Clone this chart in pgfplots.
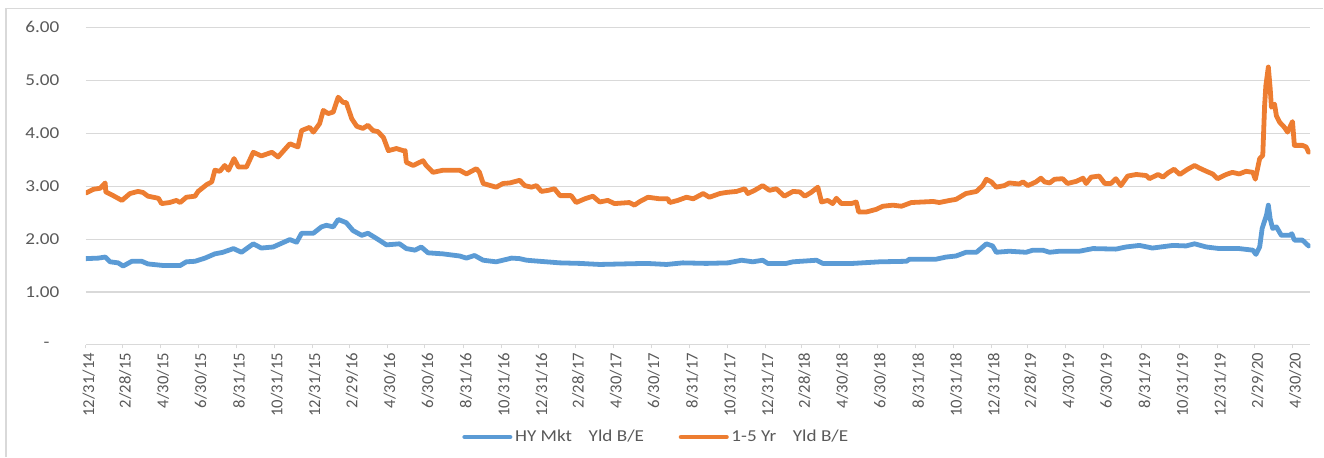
\documentclass[border=0pt]{standalone}
\usepackage{fontspec}
\setmainfont{Carlito}
\newfontfamily\widefont[FakeStretch=1.15]{Carlito}
\usepackage{pgfplots}
\pgfplotsset{compat=1.18}

\definecolor{hyblue}{HTML}{5B9BD5}
\definecolor{yrorange}{HTML}{ED7D31}
\definecolor{txtgrey}{HTML}{595959}
\definecolor{gridgrey}{HTML}{D9D9D9}

\begin{document}
\begin{tikzpicture}
\begin{axis}[
    name=ax,
    scale only axis,
    width=918.75pt, height=238.3pt,
    xmin=0, xmax=1976,
    ymin=0, ymax=6,
    axis line style={draw=none},
    ytick={0,1,2,3,4,5,6},
    yticklabels={{-\hphantom{0}},1.00,2.00,3.00,4.00,5.00,6.00},
    ymajorgrids,
    grid style={gridgrey, line width=0.8pt},
    ytick style={draw=none},
    yticklabel style={xshift=-14pt, font=\widefont\fontsize{12.5}{14}\selectfont},
    xtick={0,59,120,181,243,304,365,425,486,547,609,670,731,790,851,912,974,1035,1096,1155,1216,1277,1339,1400,1461,1520,1581,1642,1704,1765,1826,1886,1947},
    xticklabels={12/31/14,2/28/15,4/30/15,6/30/15,8/31/15,10/31/15,12/31/15,2/29/16,4/30/16,6/30/16,8/31/16,10/31/16,12/31/16,2/28/17,4/30/17,6/30/17,8/31/17,10/31/17,12/31/17,2/28/18,4/30/18,6/30/18,8/31/18,10/31/18,12/31/18,2/28/19,4/30/19,6/30/19,8/31/19,10/31/19,12/31/19,2/29/20,4/30/20},
    xtick pos=bottom,
    tick align=outside,
    major tick length=2.5pt,
    xtick style={gridgrey, line width=0.8pt},
    xticklabel style={rotate=90, anchor=east, yshift=-2pt, font=\fontsize{12.5}{14}\selectfont},
    every tick label/.append style={text=txtgrey},
    /pgf/number format/assume math mode=true,
    legend style={at={(0.466,-0.29)}, anchor=center, draw=none, fill=none,
        legend columns=2, font=\widefont\fontsize{12.5}{14}\selectfont, text=txtgrey,
        /tikz/every even column/.append style={column sep=24pt}},
    legend image code/.code={\draw[#1] (0pt,0pt) -- (34pt,0pt);},
    every axis plot/.append style={line width=3.6pt, line join=round, line cap=round},
]
% bottom axis line
\draw[gridgrey, line width=0.8pt] (axis cs:0,0) -- (axis cs:1976,0);

% HY Mkt Yld B/E
\addplot[hyblue] coordinates {
(0,1.63)(20,1.64)(31,1.66)(39,1.57)(52,1.55)(60,1.49)(74,1.58)(90,1.58)(100,1.53)(125,1.50)
(152,1.50)(162,1.57)(176,1.58)(192,1.64)(208,1.72)(221,1.75)(238,1.82)(251,1.75)(270,1.91)(283,1.83)
(302,1.85)(329,1.99)(340,1.94)(348,2.11)(367,2.11)(380,2.23)(388,2.26)(399,2.23)(407,2.37)(420,2.31)
(431,2.16)(445,2.07)(455,2.11)(469,2.01)(485,1.89)(506,1.91)(517,1.82)(531,1.79)(541,1.85)(552,1.74)
(576,1.72)(603,1.68)(614,1.64)(627,1.69)(641,1.60)(662,1.57)(687,1.64)(700,1.63)(711,1.60)(732,1.58)
(765,1.55)(797,1.54)(829,1.52)(904,1.54)(937,1.52)(963,1.55)(1001,1.54)(1036,1.55)(1058,1.60)(1076,1.57)
(1092,1.60)(1100,1.54)(1130,1.54)(1141,1.57)(1179,1.60)(1189,1.54)(1238,1.54)(1281,1.57)(1324,1.58)(1329,1.62)
(1372,1.62)(1388,1.66)(1404,1.68)(1420,1.75)(1437,1.75)(1447,1.85)(1453,1.91)(1463,1.87)(1469,1.75)(1490,1.77)
(1517,1.75)(1528,1.79)(1544,1.79)(1555,1.75)(1571,1.77)(1603,1.77)(1625,1.82)(1662,1.81)(1678,1.85)(1700,1.88)
(1721,1.83)(1754,1.88)(1775,1.87)(1789,1.91)(1808,1.85)(1829,1.82)(1861,1.82)(1883,1.79)(1888,1.71)(1894,1.85)
(1898,2.20)(1905,2.45)(1908,2.64)(1911,2.38)(1915,2.20)(1921,2.23)(1929,2.07)(1942,2.07)(1946,2.10)(1950,1.98)
(1963,1.98)(1973,1.87)
};
\addlegendentry{HY Mkt\quad Yld B/E}

% 1-5 Yr Yld B/E
\addplot[yrorange] coordinates {
(0,2.87)(12,2.94)(23,2.96)(31,3.06)(32,2.89)(44,2.82)(58,2.73)(71,2.86)(84,2.90)(92,2.88)
(100,2.81)(117,2.77)(122,2.67)(135,2.69)(146,2.73)(152,2.69)(162,2.79)(176,2.81)(181,2.90)(195,3.03)
(203,3.08)(208,3.30)(216,3.28)(224,3.39)(230,3.30)(239,3.52)(246,3.36)(259,3.36)(270,3.64)(283,3.57)
(300,3.64)(310,3.55)(329,3.80)(342,3.74)(348,4.05)(361,4.11)(367,4.02)(377,4.18)(383,4.43)(391,4.37)
(399,4.40)(407,4.68)(415,4.58)(420,4.58)(429,4.27)(437,4.13)(447,4.09)(455,4.15)(463,4.05)(471,4.03)
(480,3.92)(488,3.67)(501,3.71)(512,3.67)(515,3.67)(517,3.45)(528,3.39)(544,3.48)(549,3.39)(560,3.26)
(576,3.30)(603,3.30)(614,3.23)(630,3.33)(635,3.26)(641,3.05)(662,2.98)(673,3.05)(684,3.06)(700,3.11)
(708,3.01)(719,2.98)(727,3.01)(735,2.90)(746,2.92)(756,2.95)(765,2.82)(783,2.82)(791,2.69)(805,2.76)
(818,2.81)(829,2.70)(842,2.73)(853,2.67)(877,2.69)(885,2.64)(894,2.71)(907,2.79)(926,2.76)(939,2.76)
(942,2.69)(955,2.73)(969,2.79)(980,2.76)(996,2.86)(1006,2.79)(1023,2.86)(1033,2.88)(1050,2.90)(1063,2.95)
(1068,2.86)(1079,2.92)(1092,3.01)(1103,2.92)(1114,2.95)(1127,2.81)(1141,2.90)(1152,2.89)(1160,2.81)(1170,2.88)
(1181,2.98)(1187,2.70)(1197,2.73)(1205,2.67)(1211,2.77)(1219,2.67)(1235,2.67)(1243,2.70)(1247,2.51)(1259,2.51)
(1275,2.56)(1286,2.62)(1302,2.64)(1316,2.62)(1332,2.69)(1350,2.70)(1367,2.71)(1377,2.69)(1394,2.73)(1404,2.75)
(1420,2.86)(1437,2.90)(1447,3.01)(1453,3.13)(1461,3.08)(1469,2.98)(1482,3.01)(1490,3.06)(1506,3.04)(1512,3.08)
(1520,3.01)(1533,3.08)(1541,3.15)(1547,3.08)(1555,3.06)(1563,3.13)(1576,3.14)(1584,3.05)(1598,3.09)(1609,3.15)
(1614,3.05)(1622,3.17)(1635,3.19)(1644,3.05)(1654,3.05)(1662,3.14)(1670,3.01)(1681,3.19)(1695,3.22)(1711,3.20)
(1716,3.14)(1730,3.22)(1738,3.17)(1746,3.25)(1756,3.32)(1765,3.22)(1778,3.32)(1789,3.39)(1797,3.34)(1808,3.28)
(1818,3.23)(1826,3.14)(1840,3.22)(1850,3.26)(1861,3.23)(1872,3.28)(1883,3.26)(1887,3.13)(1894,3.52)(1899,3.58)
(1902,4.52)(1904,4.90)(1908,5.25)(1911,4.84)(1913,4.49)(1918,4.55)(1921,4.33)(1926,4.21)(1934,4.11)(1939,4.02)
(1947,4.22)(1950,3.77)(1963,3.77)(1969,3.74)(1973,3.64)
};
\addlegendentry{1-5 Yr\quad Yld B/E}
\end{axis}
% chart frame (left and top edges visible) and page size
\draw[gridgrey, line width=0.8pt] ([shift={(-60pt,-84.2pt)}]ax.south west) -- ([shift={(-60pt,14.25pt)}]ax.north west) -- ([shift={(9.75pt,14.25pt)}]ax.north east);
\path ([shift={(-64.5pt,-84.2pt)}]ax.south west) rectangle ([shift={(9.75pt,20.5pt)}]ax.north east);
\end{tikzpicture}
\end{document}
